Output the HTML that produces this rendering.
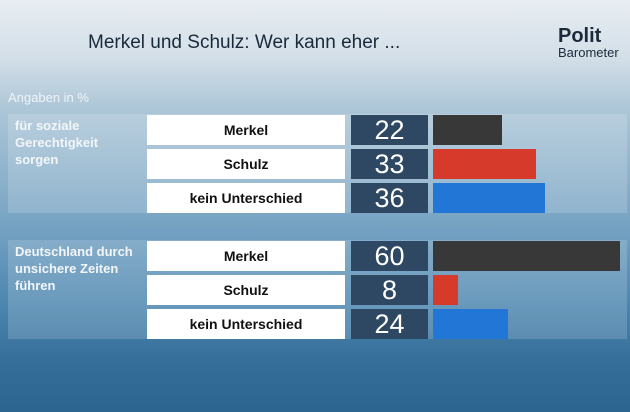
<!DOCTYPE html>
<html><head><meta charset="utf-8"><style>
html,body{margin:0;padding:0}
body{width:630px;height:412px;overflow:hidden;position:relative;font-family:"Liberation Sans",sans-serif;
background:linear-gradient(180deg,#e8edf2 0%,#d3dfe8 14%,#aec7d8 26%,#8fb3cc 42%,#6f9ec0 58%,#4a84ad 75%,#356f99 88%,#2c6590 100%);}
.title{position:absolute;left:88px;top:32px;font-size:19px;color:#1b2a3a;}
.logo{position:absolute;left:558px;top:26px;color:#1b2a3a;}
.sub{position:absolute;left:8px;top:90px;font-size:13px;color:#eef3f7;}
.panel{position:absolute;left:8px;width:619px;height:99px;background:rgba(255,255,255,0.16);}
.plabel{position:absolute;left:15px;font-size:13px;font-weight:bold;color:#f3f6f9;line-height:17px;}
.lbox{position:absolute;left:147px;width:198px;height:30px;background:#fff;color:#111;font-weight:bold;font-size:14px;text-align:center;line-height:30px;}
.nbox{position:absolute;left:351px;width:77px;height:30px;background:#2e4863;color:#fff;font-size:27px;text-align:center;line-height:30px;}
.bar{position:absolute;left:433px;height:30px;}
</style></head><body>
<div class="title">Merkel und Schulz: Wer kann eher ...</div>
<div class="logo"><div style="font-size:20px;font-weight:bold;line-height:20px;">Polit</div><div style="font-size:13px;line-height:14px;">Barometer</div></div>
<div class="sub">Angaben in %</div>
<div id="chart"></div>
<script>
const groups=["für soziale<br>Gerechtigkeit<br>sorgen","Deutschland durch<br>unsichere Zeiten<br>führen"];
const categories=["Merkel","Schulz","kein Unterschied"];
const values1=[22,33,36];
const values2=[60,8,24];
const colors=["#383838","#d63a2a","#2176d6"];
const series=[values1,values2];
const groupTop=[114,240];
const rowOff=[1,35,69];
function xScale(v){return v*3.12;}
const root=document.getElementById('chart');
series.forEach((vals,g)=>{
  const p=document.createElement('div');p.className='panel';p.style.top=groupTop[g]+'px';
  
  
  root.appendChild(p);
  const l=document.createElement('div');l.className='plabel';l.style.top=(groupTop[g]+3)+'px';l.innerHTML=groups[g];
  
  
  root.appendChild(l);
  vals.forEach((v,i)=>{
    const y=groupTop[g]+rowOff[i];
    const a=document.createElement('div');a.className='lbox';a.style.top=y+'px';a.textContent=categories[i];
    
    
    root.appendChild(a);
    const n=document.createElement('div');n.className='nbox';n.style.top=y+'px';n.textContent=v;
    
    
    root.appendChild(n);
    const b=document.createElement('div');b.className='bar';b.style.top=y+'px';b.style.width=xScale(v)+'px';b.style.background=colors[i];
    
    
    root.appendChild(b);
  });
});
</script>
</body></html>
